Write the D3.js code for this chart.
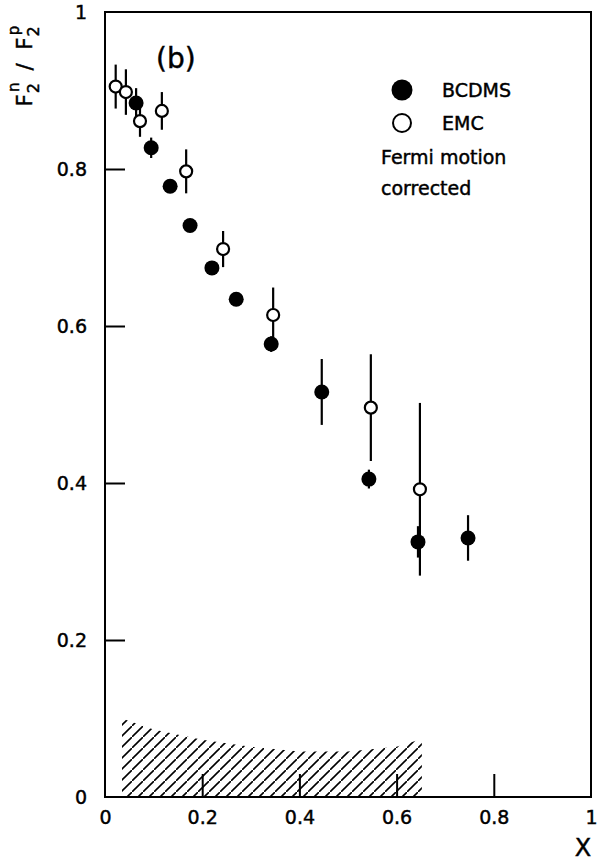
<!DOCTYPE html>
<html>
<head>
<meta charset="utf-8">
<script src="https://cdn.jsdelivr.net/npm/d3@7.9.0/dist/d3.min.js"></script>
<style>
  html, body { margin: 0; padding: 0; background: #fff; }
  svg text { font-family: "DejaVu Sans", sans-serif; fill: #000; stroke: #000; stroke-width: 0.45px; }
</style>
</head>
<body>
<div id="chart"></div>
<script>
// BCDMS (filled points)
const bcdmsX   = [0.064, 0.095, 0.134, 0.175, 0.220, 0.270, 0.342, 0.446, 0.543, 0.644, 0.747];
const bcdmsY   = [0.884, 0.827, 0.778, 0.728, 0.674, 0.634, 0.577, 0.516, 0.405, 0.325, 0.330];
const bcdmsErr = [0.019, 0.013, 0.008, 0.008, 0.008, 0.008, 0.010, 0.042, 0.012, 0.020, 0.029];

// EMC (open points)
const emcX   = [0.022, 0.043, 0.072, 0.117, 0.167, 0.243, 0.346, 0.547, 0.648];
const emcY   = [0.905, 0.898, 0.861, 0.874, 0.797, 0.698, 0.614, 0.496, 0.392];
const emcErr = [0.028, 0.029, 0.020, 0.024, 0.028, 0.023, 0.035, 0.068, 0.110];

// systematic error band (hatched)
const bandX   = [0.035, 0.10, 0.20, 0.30, 0.40, 0.50, 0.60, 0.652];
const bandTop = [0.100, 0.086, 0.073, 0.064, 0.058, 0.058, 0.064, 0.074];

const xTicks = [0, 0.2, 0.4, 0.6, 0.8, 1];
const yTicks = [0, 0.2, 0.4, 0.6, 0.8, 1];

const width = 604, height = 861;
const plot = { left: 105, right: 591, top: 12, bottom: 797 };

const svg = d3.select('#chart').append('svg')
  .attr('width', width).attr('height', height);

const x = d3.scaleLinear().domain([0, 1]).range([plot.left, plot.right]);
const y = d3.scaleLinear().domain([0, 1]).range([plot.bottom, plot.top]);

// hatch pattern
svg.append('defs').append('pattern')
  .attr('id', 'hatch')
  .attr('patternUnits', 'userSpaceOnUse')
  .attr('width', 11).attr('height', 11)
  .append('path')
  .attr('d', 'M0,11 L11,0')
  .attr('stroke', '#000').attr('stroke-width', 1.6);

const band = bandX.map((d, i) => ({ x: d, top: bandTop[i] }));
svg.append('path')
  .datum(band)
  .attr('fill', 'url(#hatch)')
  .attr('d', d3.area().x(d => x(d.x)).y0(y(0)).y1(d => y(d.top)));

// axes (ticks pointing inward)
const fmt = d3.format('~g');
const xAxis = svg.append('g')
  .attr('transform', `translate(0,${plot.bottom})`)
  .call(d3.axisBottom(x).tickValues(xTicks).tickFormat(fmt)
    .tickSizeInner(-23).tickSizeOuter(0).tickPadding(14));
const yAxis = svg.append('g')
  .attr('transform', `translate(${plot.left},0)`)
  .call(d3.axisLeft(y).tickValues(yTicks).tickFormat(fmt)
    .tickSizeInner(-20).tickSizeOuter(0).tickPadding(18));

[xAxis, yAxis].forEach(g => {
  g.select('.domain').remove();
  g.selectAll('line').attr('stroke', '#000').attr('stroke-width', 2);
  g.selectAll('text').attr('font-size', 19).attr('font-family', '"DejaVu Sans", sans-serif');
});
// the 0 and 1 ticks sit on the frame
xAxis.selectAll('.tick').filter(d => d === 0 || d === 1).select('line').remove();
yAxis.selectAll('.tick').filter(d => d === 0 || d === 1).select('line').remove();

// frame
svg.append('rect')
  .attr('x', plot.left).attr('y', plot.top)
  .attr('width', plot.right - plot.left).attr('height', plot.bottom - plot.top)
  .attr('fill', 'none').attr('stroke', '#000').attr('stroke-width', 2);

// data
const bcdms = bcdmsX.map((d, i) => ({ x: d, y: bcdmsY[i], e: bcdmsErr[i] }));
const emc = emcX.map((d, i) => ({ x: d, y: emcY[i], e: emcErr[i] }));

const drawErr = (data) => svg.append('g')
  .selectAll('line').data(data).join('line')
  .attr('x1', d => x(d.x)).attr('x2', d => x(d.x))
  .attr('y1', d => y(d.y - d.e)).attr('y2', d => y(d.y + d.e))
  .attr('stroke', '#000').attr('stroke-width', 2.2);

drawErr(bcdms);
drawErr(emc);

svg.append('g').selectAll('circle').data(bcdms).join('circle')
  .attr('cx', d => x(d.x)).attr('cy', d => y(d.y)).attr('r', 7.5)
  .attr('fill', '#000');

svg.append('g').selectAll('circle').data(emc).join('circle')
  .attr('cx', d => x(d.x)).attr('cy', d => y(d.y)).attr('r', 6)
  .attr('fill', '#fff').attr('stroke', '#000').attr('stroke-width', 2.2);

// legend
svg.append('circle').attr('cx', 402).attr('cy', 90).attr('r', 10.5).attr('fill', '#000');
svg.append('circle').attr('cx', 402).attr('cy', 123).attr('r', 9)
  .attr('fill', '#fff').attr('stroke', '#000').attr('stroke-width', 2);
const legendText = [
  { t: 'BCDMS', x: 442, y: 90 },
  { t: 'EMC', x: 442, y: 123 },
  { t: 'Fermi motion', x: 381, y: 157 },
  { t: 'corrected', x: 381, y: 188 }
];
svg.append('g').selectAll('text').data(legendText).join('text')
  .attr('x', d => d.x).attr('y', d => d.y)
  .attr('dy', '0.36em').attr('font-size', 19)
  .text(d => d.t);

// panel label
svg.append('text').attr('x', 156).attr('y', 68)
  .attr('font-size', 28).attr('stroke-width', 0.3).text('(b)');

// x title
svg.append('text').attr('x', 583).attr('y', 847).attr('dy', '0.36em')
  .attr('text-anchor', 'middle').attr('font-size', 24).attr('stroke-width', 0.2).text('X');

// y title: F2^n / F2^p
const yt = svg.append('text')
  .attr('transform', 'translate(32,66) rotate(-90)')
  .attr('text-anchor', 'middle').attr('font-size', 21);
yt.append('tspan').text('F');
yt.append('tspan').attr('font-size', 16).attr('dy', 7).attr('dx', 1).text('2');
yt.append('tspan').attr('font-size', 15).attr('dx', -9).attr('dy', -20).text('n');
yt.append('tspan').attr('dy', 13).attr('dx', 12).text('/');
yt.append('tspan').attr('dx', 14).text('F');
yt.append('tspan').attr('font-size', 16).attr('dy', 7).attr('dx', 1).text('2');
yt.append('tspan').attr('font-size', 15).attr('dx', -9).attr('dy', -20).text('p');
</script>
</body>
</html>
